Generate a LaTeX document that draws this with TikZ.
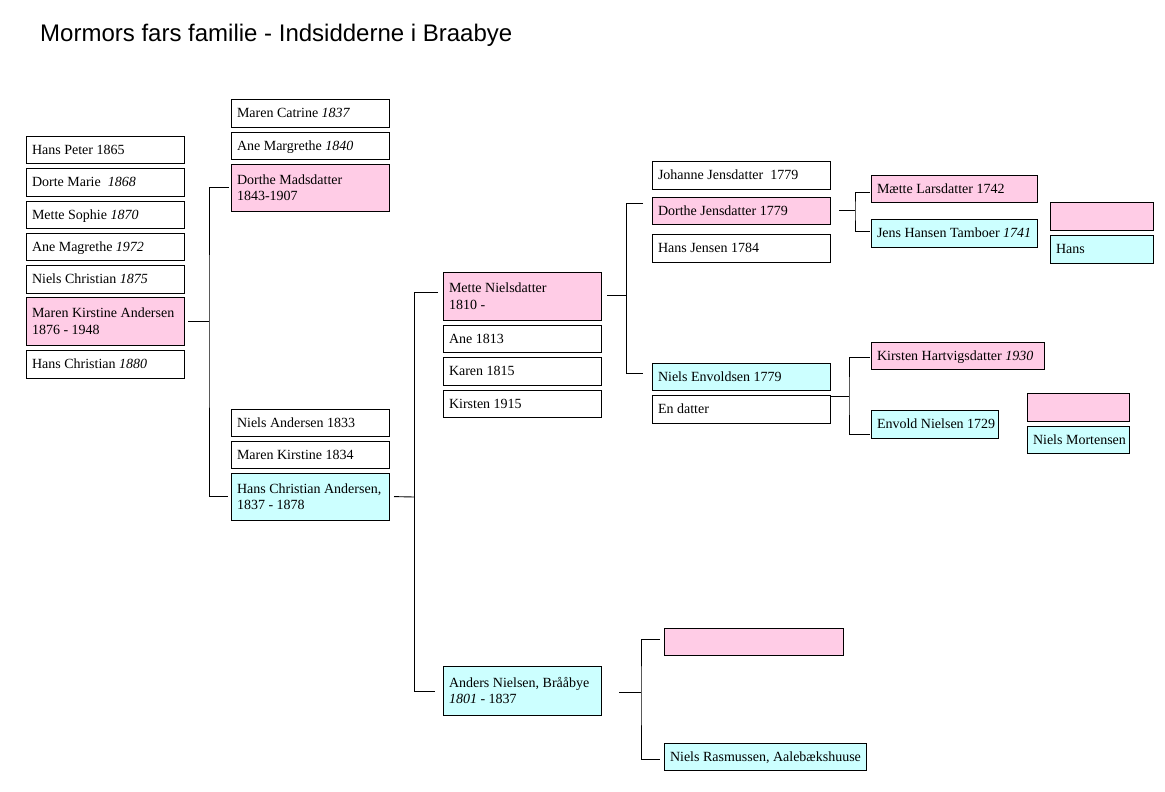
\documentclass[tikz,border=0pt]{standalone}
\usepackage{fontspec}
\setmainfont{Liberation Serif}
\newfontfamily\titlefont{Liberation Sans}
\definecolor{pinkfill}{HTML}{FFCCE6}
\definecolor{cyanfill}{HTML}{CCFFFF}
\tikzset{
  box/.style={draw=black, line width=1pt, fill=white, inner xsep=6pt, inner ysep=1pt,
    outer sep=0pt, font=\fontsize{14}{16.5}\selectfont},
  fem/.style={fill=pinkfill},
  mal/.style={fill=cyanfill},
  link/.style={draw=black, line width=0.9pt},
}
\newcommand\pbox[7][]{%
  \pgfmathsetmacro\bw{#5-#3}\pgfmathsetmacro\bh{#6-#4}\pgfmathsetmacro\tw{#5-#3-12}%
  \node[box,#1,minimum width=\bw pt,minimum height=\bh pt,anchor=north west] (#2) at (#3,-#4)
    {\makebox[\tw pt][l]{\raisebox{-1.5pt}[\height][\depth]{\begin{tabular}{@{}l@{}}#7\end{tabular}}}};}
\begin{document}
\begin{tikzpicture}[x=1pt,y=1pt]
\useasboundingbox[fill=white] (0,0) rectangle (1165,-792);
\node[anchor=base west, inner sep=0pt, font=\titlefont\fontsize{24}{28}\selectfont] (title) at (40,-42) {Mormors fars familie - Indsidderne i Braabye};
% column 1
\pbox{hp}{26}{136}{184}{163}{Hans Peter 1865}
\pbox{dma}{26}{168}{184}{196}{Dorte Marie \ \textit{1868}}
\pbox{ms}{26}{201}{184}{228}{Mette Sophie \textit{1870}}
\pbox{am}{26}{233}{184}{260}{Ane Magrethe \textit{1972}}
\pbox{nc}{26}{265}{184}{293}{Niels Christian \textit{1875}}
\pbox[fem]{mk}{26}{297}{184}{345}{Maren Kirstine Andersen\\1876 - 1948}
\pbox{hc}{26}{350}{184}{378}{Hans Christian \textit{1880}}
% column 2
\pbox{mc}{231}{99}{389}{127}{Maren Catrine \textit{1837}}
\pbox{amg}{231}{132}{389}{159}{Ane Margrethe \textit{1840}}
\pbox[fem]{dm}{231}{164}{389}{211}{Dorthe Madsdatter\\1843-1907}
\pbox{na}{231}{409}{389}{436}{Niels Andersen 1833}
\pbox{mks}{231}{441}{389}{468}{Maren Kirstine 1834}
\pbox[mal]{hca}{231}{473}{389}{520}{Hans Christian Andersen,\\1837 - 1878}
% column 3
\pbox[fem]{mn}{443}{272}{601}{320}{Mette Nielsdatter\\1810 -}
\pbox{ane}{443}{325}{601}{352}{Ane 1813}
\pbox{ka}{443}{357}{601}{385}{Karen 1815}
\pbox{ki}{443}{390}{601}{417}{Kirsten 1915}
\pbox[mal]{an}{443}{666}{601}{715}{Anders Nielsen, Brååbye\\\textit{1801} - 1837}
% column 4
\pbox{jj}{652}{161}{830}{189}{Johanne Jensdatter \ 1779}
\pbox[fem]{dj}{652}{197}{830}{224}{Dorthe Jensdatter 1779}
\pbox{hj}{652}{234}{830}{262}{Hans Jensen 1784}
\pbox[mal]{ne}{652}{363}{830}{390}{Niels Envoldsen 1779}
\pbox{ed}{652}{395}{830}{423}{En datter}
\pbox[fem]{pe3}{664}{628}{843}{655}{}
\pbox[mal]{nr}{664}{743}{866}{770}{Niels Rasmussen, Aalebækshuuse}
% column 5
\pbox[fem]{ml}{871}{175}{1037}{202}{Mætte Larsdatter 1742}
\pbox[mal]{jh}{871}{219}{1037}{247}{Jens Hansen Tamboer \textit{1741}}
\pbox[fem]{kh}{871}{342}{1044}{369}{Kirsten Hartvigsdatter \textit{1930}}
\pbox[mal]{en}{871}{410}{998}{438}{Envold Nielsen 1729}
% column 6
\pbox[fem]{pe1}{1050}{202}{1153}{230}{}
\pbox[mal]{hs}{1050}{235}{1153}{263}{Hans}
\pbox[fem]{pe2}{1027}{393}{1129}{421}{}
\pbox[mal]{nm}{1027}{426}{1129}{453}{Niels Mortensen}
% junction points
\coordinate (j1) at (209,-321);
\coordinate (j2) at (414,-497);
\coordinate (j3) at (626,-295);
\coordinate (j4) at (855,-210);
\coordinate (j5) at (849,-396);
\coordinate (j6) at (641,-692);
% connectors
\draw[link, shorten <=4pt] (mk.east) -- (j1);
\draw[link, shorten <=2pt] ([yshift=0.5]dm.west) -| (j1) |- ([xshift=-3pt]hca.west);
\draw[link, shorten <=5pt] (hca.east) -- (j2);
\draw[link, shorten <=5pt] ([yshift=4pt]mn.west) -| (j2);
\draw[link] (j2) |- ([xshift=-8pt,yshift=-0.5pt]an.west);
\draw[link, shorten <=6pt] ([yshift=1pt]mn.east) -- (j3);
\draw[link, shorten <=9pt] ([yshift=7pt]dj.west) -| (j3);
\draw[link] (j3) |- ([xshift=-9pt,yshift=3.5pt]ne.west);
\draw[link, shorten <=9pt] ([yshift=0.5pt]dj.east) -- (j4);
\draw[link] ([xshift=-1pt,yshift=-3.5pt]ml.west) -| (j4) |- ([xshift=-1pt,yshift=2pt]jh.west);
\draw[link] ([yshift=13pt]ed.east) -- (j5);
\draw[link] ([xshift=-1pt,yshift=-1.5pt]kh.west) -| (j5) |- ([xshift=-1pt,yshift=-10pt]en.west);
\draw[link, shorten <=18pt] ([yshift=-1.5pt]an.east) -- (j6);
\draw[link] ([xshift=-4pt,yshift=2.5pt]pe3.west) -| (j6) |- ([xshift=-4pt,yshift=-2.5pt]nr.west);
\end{tikzpicture}
\end{document}
